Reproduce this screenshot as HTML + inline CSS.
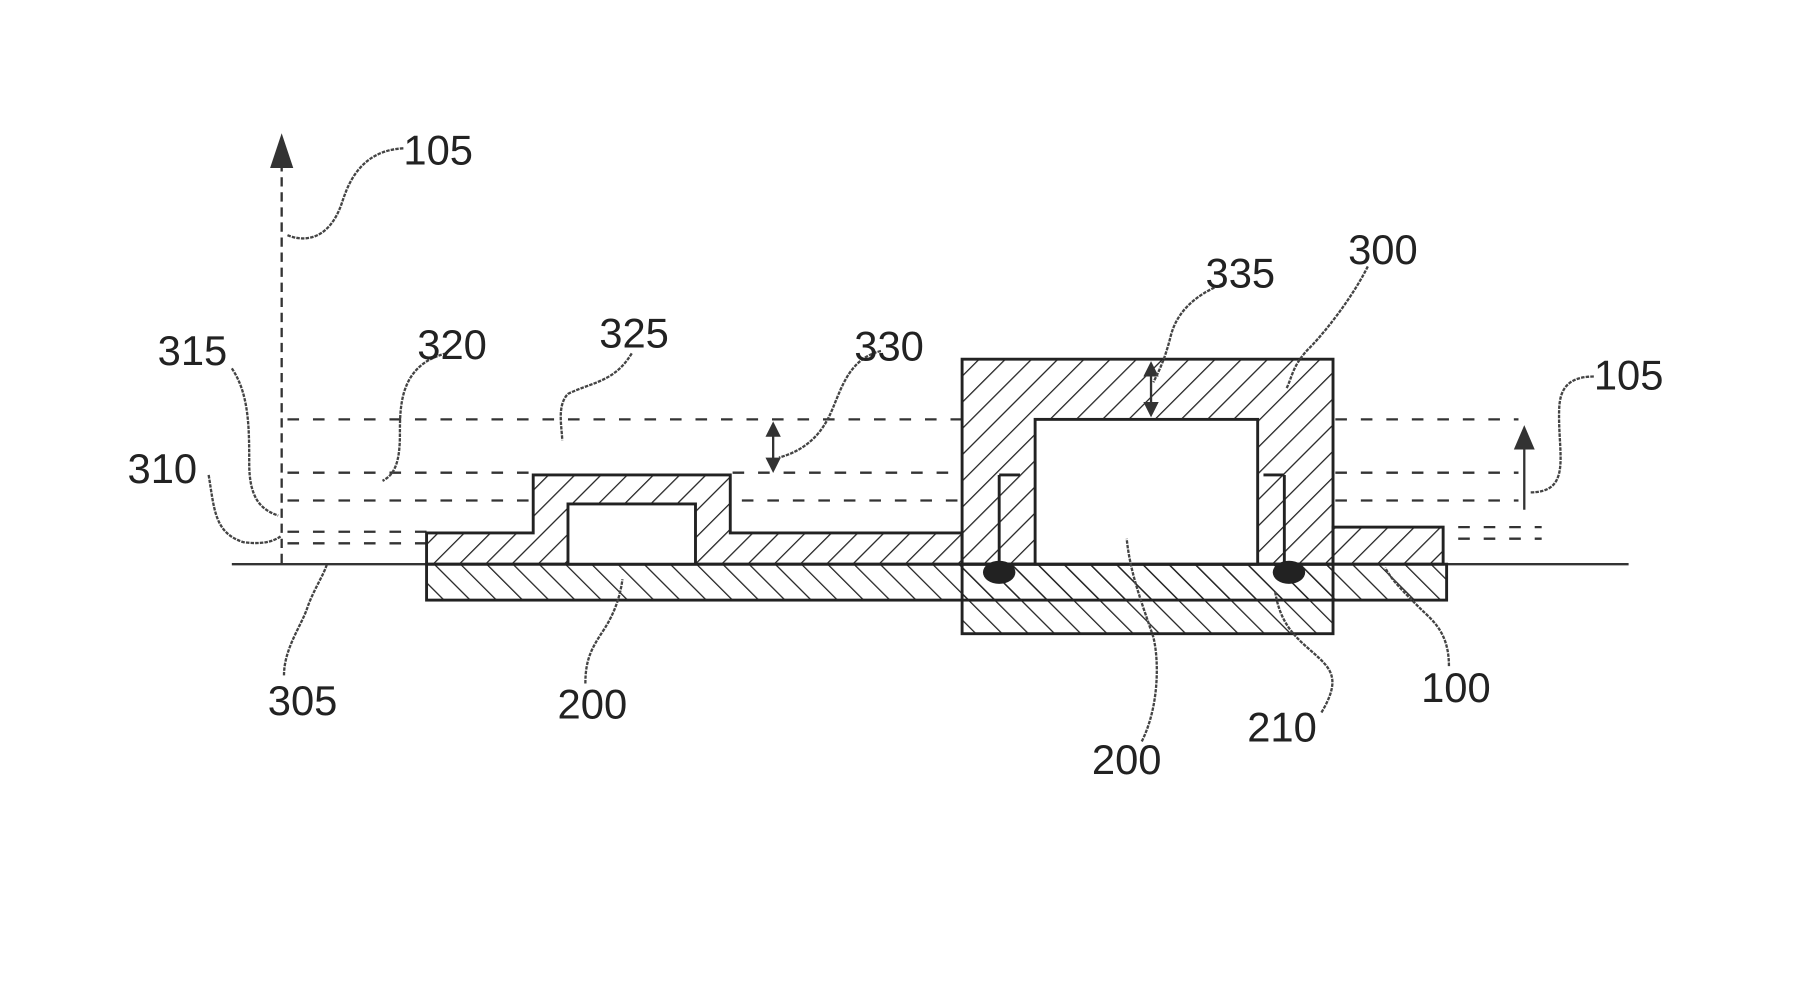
<!DOCTYPE html>
<html><head><meta charset="utf-8"><style>
html,body{margin:0;padding:0;background:#fff;}
svg{display:block;}
text{font-family:"Liberation Sans",sans-serif;font-size:36px;fill:#222;}
</style></head><body>
<svg width="1799" height="994" viewBox="0 0 1552 858" preserveAspectRatio="none" xmlns="http://www.w3.org/2000/svg">
<defs>
<pattern id="hf" width="16" height="16" patternUnits="userSpaceOnUse" patternTransform="rotate(45)">
<line x1="0" y1="0" x2="0" y2="16" stroke="#222" stroke-width="2.2"/></pattern>
<pattern id="hb" width="16" height="16" patternUnits="userSpaceOnUse" patternTransform="rotate(-45)">
<line x1="0" y1="0" x2="0" y2="16" stroke="#222" stroke-width="2.2"/></pattern>
</defs>
<g stroke="#333" stroke-width="2" fill="none">
<!-- ground line -->
<line x1="200" y1="487" x2="370" y2="487"/>
<line x1="1248" y1="487" x2="1405" y2="487"/>
<!-- axis -->
<line x1="243" y1="140" x2="243" y2="487" stroke-dasharray="8,5"/>
<!-- dashed level lines -->
<g stroke-dasharray="10,12" stroke-width="2">
<line x1="248" y1="362" x2="830" y2="362"/>
<line x1="1152" y1="362" x2="1310" y2="362"/>
<line x1="248" y1="408" x2="460" y2="408"/>
<line x1="632" y1="408" x2="830" y2="408"/>
<line x1="1152" y1="408" x2="1310" y2="408"/>
<line x1="248" y1="432" x2="460" y2="432"/>
<line x1="640" y1="432" x2="830" y2="432"/>
<line x1="1152" y1="432" x2="1310" y2="432"/>
<line x1="248" y1="459" x2="368" y2="459"/>
<line x1="248" y1="469" x2="368" y2="469"/>
<line x1="1258" y1="455" x2="1330" y2="455"/>
<line x1="1258" y1="465" x2="1330" y2="465"/>
</g>
</g>
<!-- substrate lower strip -->
<rect x="368" y="487" width="880" height="31" fill="url(#hb)" stroke="#222" stroke-width="2.5"/>
<!-- middle layer with step -->
<path d="M368 487 L368 460 L460 460 L460 410 L630 410 L630 460 L830 460 L830 487 Z" fill="url(#hf)" stroke="#222" stroke-width="2.5"/>
<rect x="490" y="435" width="110" height="52" fill="#fff" stroke="#222" stroke-width="2.5"/>
<!-- right layer -->
<rect x="1150" y="455" width="95" height="32" fill="url(#hf)" stroke="#222" stroke-width="2.5"/>
<!-- big part 300 -->
<rect x="830" y="487" width="320" height="60" fill="url(#hb)" stroke="#222" stroke-width="2.5"/>
<path d="M830 487 L830 310 L1150 310 L1150 487 Z" fill="url(#hf)" stroke="#222" stroke-width="2.5"/>
<rect x="893" y="362" width="192" height="125" fill="#fff" stroke="#222" stroke-width="2.5"/>
<line x1="830" y1="487" x2="1150" y2="487" stroke="#222" stroke-width="2.5"/>
<g stroke="#222" stroke-width="2.5">
<line x1="862" y1="410" x2="862" y2="487"/><line x1="862" y1="410" x2="880" y2="410"/>
<line x1="1108" y1="410" x2="1108" y2="487"/><line x1="1090" y1="410" x2="1108" y2="410"/>
</g>
<ellipse cx="862" cy="494" rx="14" ry="10" fill="#222"/>
<ellipse cx="1112" cy="494" rx="14" ry="10" fill="#222"/>
<!-- arrows -->
<polygon points="243,115 233,145 253,145" fill="#333"/>
<line x1="1315" y1="440" x2="1315" y2="385" stroke="#333" stroke-width="2"/>
<polygon points="1315,367 1306,388 1324,388" fill="#333"/>
<g fill="#333" stroke="#333" stroke-width="2">
<line x1="667" y1="368" x2="667" y2="404"/><polygon points="667,366 662,376 672,376"/><polygon points="667,406 662,396 672,396"/>
<line x1="993" y1="316" x2="993" y2="356"/><polygon points="993,314 988,324 998,324"/><polygon points="993,358 988,348 998,348"/>
</g>
<!-- leaders -->
<g stroke="#444" stroke-width="2" fill="none" stroke-dasharray="3,1">
<path d="M348 128 C310 130 300 160 295 175 C285 205 265 210 248 203"/>
<path d="M1375 325 C1345 325 1345 345 1345 360 C1345 395 1355 425 1320 425"/>
<path d="M200 318 C215 340 215 370 215 400 C215 430 225 440 240 445"/>
<path d="M385 305 C345 315 345 350 345 375 C345 400 340 410 330 415"/>
<path d="M545 305 C530 330 510 330 490 340 C480 350 485 370 485 380"/>
<path d="M760 303 C730 310 725 340 715 360 C705 380 690 390 672 395"/>
<path d="M1055 245 C1030 255 1015 270 1010 290 C1005 310 1000 320 995 330"/>
<path d="M1180 230 C1165 260 1140 290 1130 300 C1115 315 1115 325 1110 335"/>
<path d="M180 410 C185 440 185 460 210 468 C225 470 235 468 242 463"/>
<path d="M245 583 C245 560 260 540 265 525 C270 510 280 495 282 487"/>
<path d="M505 590 C505 570 510 560 520 545 C530 530 535 515 537 500"/>
<path d="M985 640 C1000 610 1000 570 995 550 C985 520 975 495 972 465"/>
<path d="M1140 615 C1155 590 1150 580 1140 570 C1125 555 1105 545 1100 510"/>
<path d="M1250 575 C1250 545 1235 535 1225 525 C1210 510 1200 500 1195 490"/>
</g>
<!-- labels -->
<text x="348" y="142">105</text>
<text x="1375" y="336">105</text>
<text x="136" y="315">315</text>
<text x="360" y="310">320</text>
<text x="517" y="300">325</text>
<text x="737" y="311">330</text>
<text x="1040" y="248">335</text>
<text x="1163" y="228">300</text>
<text x="110" y="417">310</text>
<text x="231" y="617">305</text>
<text x="481" y="620">200</text>
<text x="942" y="668">200</text>
<text x="1076" y="640">210</text>
<text x="1226" y="606">100</text>
</svg>
</body></html>
